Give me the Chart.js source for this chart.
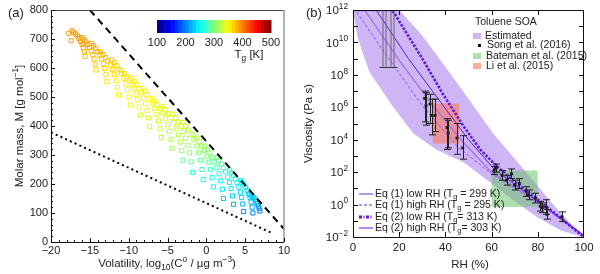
<!DOCTYPE html>
<html>
<head>
<meta charset="utf-8">
<script src="https://cdn.jsdelivr.net/npm/chart.js@4.4.0/dist/chart.umd.min.js"></script>
<style>
  body { margin: 0; background: #fff; }
  #wrap { position: relative; width: 600px; height: 274px; }
  canvas { position: absolute; top: 0; }
</style>
</head>
<body>
<div id="wrap">
  <canvas id="chartA" width="300" height="274" style="left:0"></canvas>
  <canvas id="chartB" width="300" height="274" style="left:300px"></canvas>
</div>
<script>
// ---------- panel (a): molar mass vs volatility, coloured by Tg ----------
// one line per band of points
const volatility = [
  -17.7,-17.4,-17.3,-17.06,-16.82,-16.6,-16.38,-16.18,-15.99,-15.84,-15.7,-15.6,
  -16.0,-15.75,-15.5,-15.26,-15.03,-14.81,-14.61,-14.45,-14.31,-14.2,
  -14.8,-14.52,-14.24,-13.98,-13.72,-13.48,-13.26,-13.08,-12.92,-12.8,
  -13.6,-13.28,-12.96,-12.66,-12.36,-12.08,-11.83,-11.62,-11.44,-11.3,
  -12.2,-11.86,-11.53,-11.22,-10.9,-10.62,-10.35,-10.14,-9.94,-9.8,
  -10.9,-10.56,-10.23,-9.92,-9.6,-9.32,-9.05,-8.84,-8.64,-8.5,
  -9.6,-9.28,-8.96,-8.66,-8.36,-8.08,-7.83,-7.62,-7.44,-7.3,
  -8.3,-7.95,-7.6,-7.27,-6.95,-6.65,-6.38,-6.15,-5.95,-5.8,
  -7.0,-6.64,-6.27,-5.93,-5.6,-5.28,-5.0,-4.76,-4.56,-4.4,
  -5.6,-5.24,-4.87,-4.53,-4.2,-3.88,-3.6,-3.36,-3.16,-3.0,
  -4.3,-3.95,-3.6,-3.27,-2.95,-2.65,-2.38,-2.15,-1.95,-1.8,
  -3.0,-2.64,-2.27,-1.93,-1.6,-1.28,-1.0,-0.76,-0.56,-0.4,
  -1.6,-1.25,-0.9,-0.57,-0.25,0.05,0.32,0.55,0.75,0.9,
  -0.2,0.14,0.47,0.78,1.1,1.38,1.65,1.86,2.06,2.2,
  1.3,1.61,1.92,2.2,2.49,2.75,2.99,3.19,3.37,3.5,
  3.0,3.25,3.5,3.74,3.97,4.19,4.39,4.55,4.69,4.8,
  4.4,4.62,4.85,5.06,5.26,5.46,5.63,5.78,5.9,6.0,
  5.6,5.78,5.96,6.13,6.3,6.45,6.58,6.7,6.8,6.9
];
const molarMass = [
  720,694,728,723,717,710,702,692,681,670,656,640,
  705,698,690,681,671,659,646,631,613,593,
  685,677,668,657,645,631,615,598,577,553,
  655,646,636,624,611,594,577,557,534,507,
  628,619,608,595,581,564,545,525,500,472,
  590,581,570,558,544,528,509,490,465,438,
  564,554,542,529,514,496,476,454,428,398,
  530,520,508,494,479,460,440,418,391,360,
  496,486,474,460,444,425,404,382,354,323,
  467,456,443,428,411,391,369,345,315,282,
  440,428,414,398,380,358,334,308,276,240,
  412,400,386,371,353,331,308,282,250,215,
  370,359,347,332,316,296,275,251,222,190,
  330,319,307,292,276,256,235,211,182,150,
  290,280,269,256,242,224,205,184,159,130,
  248,239,229,218,205,189,172,154,131,105,
  212,205,197,188,178,166,153,138,120,100,
  165,161,157,152,146,139,132,124,116,107
];
const glassTemp = [
  390,387,390,390,389,388,388,387,385,383,379,375,
  388,388,387,385,384,380,377,373,369,364,
  386,385,384,380,376,373,369,365,361,357,
  379,377,374,371,368,364,361,358,355,352,
  372,370,368,365,362,359,357,355,352,343,
  364,362,360,358,356,355,353,349,341,336,
  359,357,356,355,353,351,345,339,334,330,
  355,354,353,350,346,340,336,333,328,320,
  351,349,344,340,337,334,331,326,319,311,
  342,340,337,334,332,328,323,317,308,291,
  336,334,332,330,326,320,314,305,288,265,
  332,330,327,323,318,313,305,291,272,253,
  323,320,317,313,308,300,287,272,256,244,
  312,309,305,298,288,276,262,252,241,228,
  296,290,284,276,266,257,250,242,232,218,
  270,264,258,254,250,244,237,230,219,203,
  252,250,247,244,239,235,229,223,212,200,
  234,232,231,229,227,224,220,215,210,195
];
const upperLimitX = [-15, 10];
const upperLimitM = [800, 45];
const lowerLimitX = [-20, 8.6];
const lowerLimitM = [378, 29];
const colorbarTicks = [100, 200, 300, 400, 500];

// ---------- panel (b): viscosity vs RH (log10 values) ----------
const bandUpperRH = [0, 20, 29, 40, 50.6, 60.6, 75, 86.6, 99.5];
const bandUpperLog = [12, 12, 10.6, 8.5, 6.4, 4.4, 2.0, 0.0, -2];
const bandLowerRH = [0, 2, 7, 17, 26, 36, 48, 60, 70, 80, 90, 99.5];
const bandLowerLog = [12, 10.3, 8.2, 6.1, 4.4, 3.4, 2.6, 1.3, 0.2, -0.8, -1.6, -2];

const eq1LowRH = [0, 5, 20, 34.6, 48, 60, 70, 80, 90, 100];
const eq1LowLog = [12, 12, 8.9, 6.1, 3.8, 2.0, 1.1, 0.15, -0.9, -1.95];
const eq1HighRH = [0, 1, 15, 30, 45, 60, 70, 80, 90, 100];
const eq1HighLog = [12, 12, 9.1, 6.1, 3.6, 1.9, 1.0, 0.1, -0.9, -1.9];
const eq2LowRH = [0, 17, 30, 39, 48, 55, 62, 70, 80, 90, 100];
const eq2LowLog = [12, 12, 9.0, 6.8, 4.8, 3.4, 2.4, 1.4, 0.3, -0.85, -2];
const eq2HighRH = [0, 10, 24, 38, 50, 61, 70, 80, 90, 100];
const eq2HighLog = [12, 12, 9.0, 6.3, 4.0, 2.2, 1.25, 0.2, -0.85, -1.9];

const songRH = [31, 31.6, 33.3, 34.2, 35.5, 40.7, 41.2, 45, 47.5, 61, 62, 64.5, 66.5, 68.6, 70, 72, 75, 76, 79, 81, 82, 83.5, 84, 90.5];
const songLog = [6.55, 6.1, 6.2, 5.5, 5.5, 4.75, 4.4, 4.1, 3.5, 2.1, 2.25, 1.8, 1.5, 1.9, 1.2, 1.3, 0.85, 0.6, 0.4, -0.1, -0.2, -0.15, -0.6, -0.75];
const songLogLow = [5.1, 4.9, 5.0, 4.3, 4.5, 3.4, 3.5, 3.1, 2.8, 1.85, 2.0, 1.5, 1.2, 1.6, 0.9, 1.0, 0.5, 0.3, 0.1, -0.4, -0.5, -0.6, -0.9, -1.05];
const songLogHigh = [7.0, 6.9, 6.8, 6.5, 6.5, 5.3, 5.2, 5.0, 4.25, 2.35, 2.5, 2.1, 1.8, 2.2, 1.5, 1.6, 1.1, 0.9, 0.7, 0.2, 0.1, 0.3, -0.3, -0.45];
const songLimitRH = [13.5, 16.8];
const songLimitLog = [8.5, 8.5];

const liBoxRH = [34.5, 46];
const liBoxLog = [3.76, 6.24];
const batemanBoxRH = [60, 80];
const batemanBoxLog = [-0.15, 2.1];

const viscosityTickExps = [-2, -1, 0, 1, 2, 3, 4, 5, 6, 7, 8, 9, 10, 11, 12];
const viscosityLabelExps = [-2, 0, 2, 4, 6, 8, 10, 12];
const rhTicks = [20, 40, 60, 80];

// ---------- helpers ----------
const FONT = '"Liberation Sans", Arial, sans-serif';
Chart.defaults.font.family = FONT;
Chart.defaults.color = '#222';

function jet(t) {
  const c = v => Math.max(0, Math.min(1, v));
  const r = c(Math.min(4 * t - 1.5, -4 * t + 4.5));
  const g = c(Math.min(4 * t - 0.5, -4 * t + 3.5));
  const b = c(Math.min(4 * t + 0.5, -4 * t + 2.5));
  return `rgb(${Math.round(r * 255)},${Math.round(g * 255)},${Math.round(b * 255)})`;
}
const tgColor = tg => jet((tg - 100) / 400);

// draws text with sub/superscript parts: [[text, ''|'sub'|'sup'], ...]
function richText(ctx, parts, x, y, size, align, angle) {
  ctx.save();
  ctx.translate(x, y);
  if (angle) ctx.rotate(angle);
  ctx.textBaseline = 'middle';
  ctx.textAlign = 'left';
  const fontOf = s => s + 'px ' + FONT;
  let total = 0;
  const widths = parts.map(([t, m]) => {
    ctx.font = fontOf(m ? size * 0.72 : size);
    const w = ctx.measureText(t).width;
    total += w;
    return w;
  });
  let cx = align === 'center' ? -total / 2 : align === 'right' ? -total : 0;
  parts.forEach(([t, m], i) => {
    ctx.font = fontOf(m ? size * 0.72 : size);
    const dy = m === 'sub' ? size * 0.32 : m === 'sup' ? -size * 0.38 : 0;
    ctx.fillText(t, cx, dy);
    cx += widths[i];
  });
  ctx.restore();
}

function hline(ctx, x1, x2, y) { ctx.beginPath(); ctx.moveTo(x1, y); ctx.lineTo(x2, y); ctx.stroke(); }
function vline(ctx, x, y1, y2) { ctx.beginPath(); ctx.moveTo(x, y1); ctx.lineTo(x, y2); ctx.stroke(); }

const minusFmt = v => (v < 0 ? '\u2212' + Math.abs(v) : String(v));

// ---------- chart (a) ----------
const frameA = {
  id: 'frameA',
  afterDraw(chart) {
    const { ctx, chartArea: ca, scales: { x, y } } = chart;
    ctx.save();
    ctx.fillStyle = '#222';
    ctx.lineWidth = 1;
    // box
    ctx.strokeStyle = '#444';
    hline(ctx, ca.left, ca.right, ca.top + 0.5);
    ctx.strokeStyle = '#999';
    ctx.lineWidth = 1.5;
    vline(ctx, ca.right, ca.top, ca.bottom);
    ctx.lineWidth = 1;
    ctx.strokeStyle = '#111';
    vline(ctx, ca.left + 0.5, ca.top, ca.bottom);
    hline(ctx, ca.left, ca.right, ca.bottom + 0.5);
    // inward ticks
    for (let v = -20; v <= 10; v += 1) {
      const px = Math.round(x.getPixelForValue(v)) + 0.5;
      vline(ctx, px, ca.bottom, ca.bottom - (v % 5 === 0 ? 4 : 2));
    }
    for (let v = 0; v <= 800; v += 20) {
      const py = Math.round(y.getPixelForValue(v)) + 0.5;
      hline(ctx, ca.left, ca.left + (v % 100 === 0 ? 4 : 2), py);
    }
    // colour bar
    const cbL = 157, cbR = 271, cbT = 20, cbB = 33, n = 32;
    for (let i = 0; i < n; i++) {
      ctx.fillStyle = jet((i + 0.5) / n);
      ctx.fillRect(cbL + (cbR - cbL) * i / n, cbT, (cbR - cbL) / n + 0.5, cbB - cbT);
    }
    ctx.fillStyle = '#222';
    ctx.font = '11px ' + FONT;
    ctx.textAlign = 'center';
    ctx.textBaseline = 'middle';
    const tMin = colorbarTicks[0], tMax = colorbarTicks[colorbarTicks.length - 1];
    colorbarTicks.forEach(v => {
      ctx.fillText(String(v), cbL + (cbR - cbL) * (v - tMin) / (tMax - tMin), 43);
    });
    richText(ctx, [['T', ''], ['g', 'sub'], [' [K]', '']], 249, 55, 11.5, 'center');
    // titles
    richText(ctx, [['Molar mass, M [g mol', ''], ['\u22121', 'sup'], [']', '']], 20, (ca.top + ca.bottom) / 2, 11.5, 'center', -Math.PI / 2);
    richText(ctx, [['Volatility, log', ''], ['10', 'sub'], ['(C', ''], ['o', 'sup'], [' / \u00b5g m', ''], ['\u22123', 'sup'], [')', '']], 167, 264, 11.5, 'center');
    richText(ctx, [['(a)', '']], 8, 13, 13, 'left');
    ctx.restore();
  }
};

new Chart(document.getElementById('chartA'), {
  type: 'scatter',
  data: {
    datasets: [
      {
        data: volatility.map((v, i) => ({ x: v, y: molarMass[i] })),
        pointStyle: 'rect',
        pointRadius: 2.9,
        pointBorderWidth: 1,
        pointBorderColor: glassTemp.map(tgColor),
        pointBackgroundColor: 'rgba(0,0,0,0)',
        order: 3
      },
      {
        data: upperLimitX.map((v, i) => ({ x: v, y: upperLimitM[i] })),
        showLine: true, pointRadius: 0,
        borderColor: '#000', borderWidth: 2, borderDash: [7, 5],
        order: 1
      },
      {
        data: lowerLimitX.map((v, i) => ({ x: v, y: lowerLimitM[i] })),
        showLine: true, pointRadius: 0,
        borderColor: '#000', borderWidth: 2, borderDash: [2, 3.2],
        order: 2
      }
    ]
  },
  options: {
    responsive: false,
    animation: false,
    layout: { padding: { top: 10, right: 16, left: 0, bottom: 0 } },
    plugins: { legend: { display: false }, tooltip: { enabled: false } },
    scales: {
      x: {
        type: 'linear', min: -20, max: 10,
        ticks: { stepSize: 5, padding: 2, font: { size: 11 }, color: '#222', callback: minusFmt, maxRotation: 0 },
        grid: { display: false, drawTicks: false },
        border: { display: false },
        afterFit: s => { s.height = 32; }
      },
      y: {
        type: 'linear', min: 0, max: 800,
        ticks: { stepSize: 100, padding: 3, font: { size: 11 }, color: '#222' },
        grid: { display: false, drawTicks: false },
        border: { display: false },
        afterFit: s => { s.width = 51; }
      }
    }
  },
  plugins: [frameA]
});

// ---------- chart (b) ----------
const pts = (rh, lg) => rh.map((v, i) => ({ x: v, y: Math.pow(10, lg[i]) }));
const LAVENDER = 'rgb(206,182,244)';
const EQ1 = 'rgb(165,110,240)';
const EQ2 = 'rgb(95,25,215)';
const LI = 'rgba(250,120,90,0.6)';
const BATEMAN = 'rgba(110,195,110,0.55)';

const frameB = {
  id: 'frameB',
  afterDatasetsDraw(chart) {
    const { ctx, scales: { x, y } } = chart;
    ctx.save();
    ctx.lineWidth = 1;
    // error bars of Song et al.
    ctx.strokeStyle = '#222';
    songRH.forEach((rh, i) => {
      const px = Math.round(x.getPixelForValue(rh)) + 0.5;
      const y1 = y.getPixelForValue(Math.pow(10, songLogLow[i]));
      const y2 = y.getPixelForValue(Math.pow(10, songLogHigh[i]));
      vline(ctx, px, y1, y2);
      hline(ctx, px - 3.5, px + 3.5, y1);
      hline(ctx, px - 3.5, px + 3.5, y2);
    });
    // lower-limit bars reaching the top
    ctx.strokeStyle = '#666';
    songLimitRH.forEach((rh, i) => {
      const px = Math.round(x.getPixelForValue(rh)) + 0.5;
      const y1 = y.getPixelForValue(Math.pow(10, songLimitLog[i]));
      const y2 = y.getPixelForValue(1e12);
      vline(ctx, px - 1.5, y1, y2);
      vline(ctx, px + 1.5, y1, y2);
      ctx.strokeStyle = '#333';
      hline(ctx, px - 5, px + 5, Math.round(y1) + 0.5);
      hline(ctx, px - 5, px + 5, y2 + 0.5);
      ctx.strokeStyle = '#666';
    });
    ctx.restore();
  },
  afterDraw(chart) {
    const { ctx, chartArea: ca, scales: { x, y } } = chart;
    ctx.save();
    ctx.strokeStyle = '#111';
    ctx.fillStyle = '#222';
    ctx.lineWidth = 1;
    ctx.strokeRect(ca.left + 0.5, ca.top + 0.5, ca.right - ca.left - 1, ca.bottom - ca.top);
    viscosityTickExps.forEach(e => {
      const py = Math.round(y.getPixelForValue(Math.pow(10, e))) + 0.5;
      hline(ctx, ca.left, ca.left + 5, py);
      hline(ctx, ca.right - 5, ca.right, py);
    });
    rhTicks.forEach(v => {
      const px = Math.round(x.getPixelForValue(v)) + 0.5;
      vline(ctx, px, ca.top, ca.top + 5);
      vline(ctx, px, ca.bottom, ca.bottom - 5);
    });
    viscosityLabelExps.forEach(e => {
      const py = y.getPixelForValue(Math.pow(10, e));
      richText(ctx, [['10', ''], [minusFmt(e), 'sup']], ca.left - 5, py + 1, 11.5, 'right');
    });
    // top legend
    richText(ctx, [['Toluene SOA', '']], 175, 22, 10.5, 'left');
    ctx.fillStyle = LAVENDER;
    ctx.fillRect(173, 33, 8, 6);
    ctx.fillStyle = '#111';
    ctx.fillRect(178, 44, 3, 3);
    ctx.fillStyle = BATEMAN;
    ctx.fillRect(173, 53, 8, 6);
    ctx.fillStyle = LI;
    ctx.fillRect(173, 63, 8, 6);
    ctx.fillStyle = '#222';
    richText(ctx, [['Estimated', '']], 185, 36, 10.5, 'left');
    richText(ctx, [['Song et al. (2016)', '']], 187, 45.5, 10.5, 'left');
    richText(ctx, [['Bateman et al. (2015)', '']], 186, 56, 10.5, 'left');
    richText(ctx, [['Li et al. (2015)', '']], 186, 66, 10.5, 'left');
    // bottom legend
    const rows = [
      { y: 194, color: EQ1, width: 1.5, dash: [], parts: [['Eq (1) low RH (T', ''], ['g', 'sub'], [' = 299 K)', '']] },
      { y: 205, color: EQ1, width: 1.3, dash: [3, 2], parts: [['Eq (1) high RH (T', ''], ['g', 'sub'], [' = 295 K)', '']] },
      { y: 217, color: EQ2, width: 3, dash: [3, 1.5, 1, 1.5], parts: [['Eq (2) low RH (T', ''], ['g', 'sub'], ['= 313 K)', '']] },
      { y: 228, color: EQ2, width: 1, dash: [], parts: [['Eq (2) high RH (T', ''], ['g', 'sub'], ['= 303 K)', '']] }
    ];
    rows.forEach(r => {
      ctx.strokeStyle = r.color;
      ctx.lineWidth = r.width;
      ctx.setLineDash(r.dash);
      hline(ctx, 59, 73, r.y);
      ctx.setLineDash([]);
      ctx.fillStyle = '#222';
      richText(ctx, r.parts, 75, r.y, 10.5, 'left');
    });
    // titles
    ctx.fillStyle = '#222';
    richText(ctx, [['Viscosity (Pa s)', '']], 9, (ca.top + ca.bottom) / 2, 11.5, 'center', -Math.PI / 2);
    richText(ctx, [['RH (%)', '']], 170, 265, 11.5, 'center');
    richText(ctx, [['(b)', '']], 6, 13, 13, 'left');
    ctx.restore();
  }
};

const noLine = { showLine: true, pointRadius: 0, borderColor: 'rgba(0,0,0,0)', borderWidth: 0 };

new Chart(document.getElementById('chartB'), {
  type: 'line',
  data: {
    datasets: [
      // 0,1: estimated range
      { ...noLine, data: pts(bandUpperRH, bandUpperLog), fill: '+1', backgroundColor: LAVENDER, order: 10 },
      { ...noLine, data: pts(bandLowerRH, bandLowerLog), fill: false, order: 10 },
      // 2,3: Li et al. box
      { ...noLine, data: pts(liBoxRH, [liBoxLog[1], liBoxLog[1]]), fill: '+1', backgroundColor: LI, order: 9 },
      { ...noLine, data: pts(liBoxRH, [liBoxLog[0], liBoxLog[0]]), fill: false, order: 9 },
      // 4,5: Bateman et al. box
      { ...noLine, data: pts(batemanBoxRH, [batemanBoxLog[1], batemanBoxLog[1]]), fill: '+1', backgroundColor: BATEMAN, order: 8 },
      { ...noLine, data: pts(batemanBoxRH, [batemanBoxLog[0], batemanBoxLog[0]]), fill: false, order: 8 },
      // model lines
      { data: pts(eq1LowRH, eq1LowLog), showLine: true, pointRadius: 0, borderColor: EQ1, borderWidth: 1.3, fill: false, order: 5 },
      { data: pts(eq1HighRH, eq1HighLog), showLine: true, pointRadius: 0, borderColor: EQ1, borderWidth: 1.2, borderDash: [3, 2], fill: false, order: 4 },
      { data: pts(eq2LowRH, eq2LowLog), showLine: true, pointRadius: 0, borderColor: EQ2, borderWidth: 2.6, borderDash: [2.5, 1.5], fill: false, order: 3 },
      { data: pts(eq2HighRH, eq2HighLog), showLine: true, pointRadius: 0, borderColor: EQ2, borderWidth: 1, fill: false, order: 2 },
      // Song et al. measurements
      { data: pts(songRH, songLog), showLine: false, pointStyle: 'rect', pointRadius: 2, pointBackgroundColor: '#111', pointBorderColor: '#111', pointBorderWidth: 0, fill: false, order: 1 }
    ]
  },
  options: {
    responsive: false,
    animation: false,
    layout: { padding: { top: 10, right: 16, left: 0, bottom: 0 } },
    plugins: { legend: { display: false }, tooltip: { enabled: false } },
    scales: {
      x: {
        type: 'linear', min: 0, max: 100,
        ticks: { stepSize: 20, padding: 4, font: { size: 11.5 }, color: '#222', maxRotation: 0 },
        grid: { display: false, drawTicks: false },
        border: { display: false },
        afterFit: s => { s.height = 37; }
      },
      y: {
        type: 'logarithmic', min: 1e-2, max: 1e12,
        ticks: { display: false },
        grid: { display: false, drawTicks: false },
        border: { display: false },
        afterFit: s => { s.width = 53; }
      }
    }
  },
  plugins: [frameB]
});
</script>
</body>
</html>
